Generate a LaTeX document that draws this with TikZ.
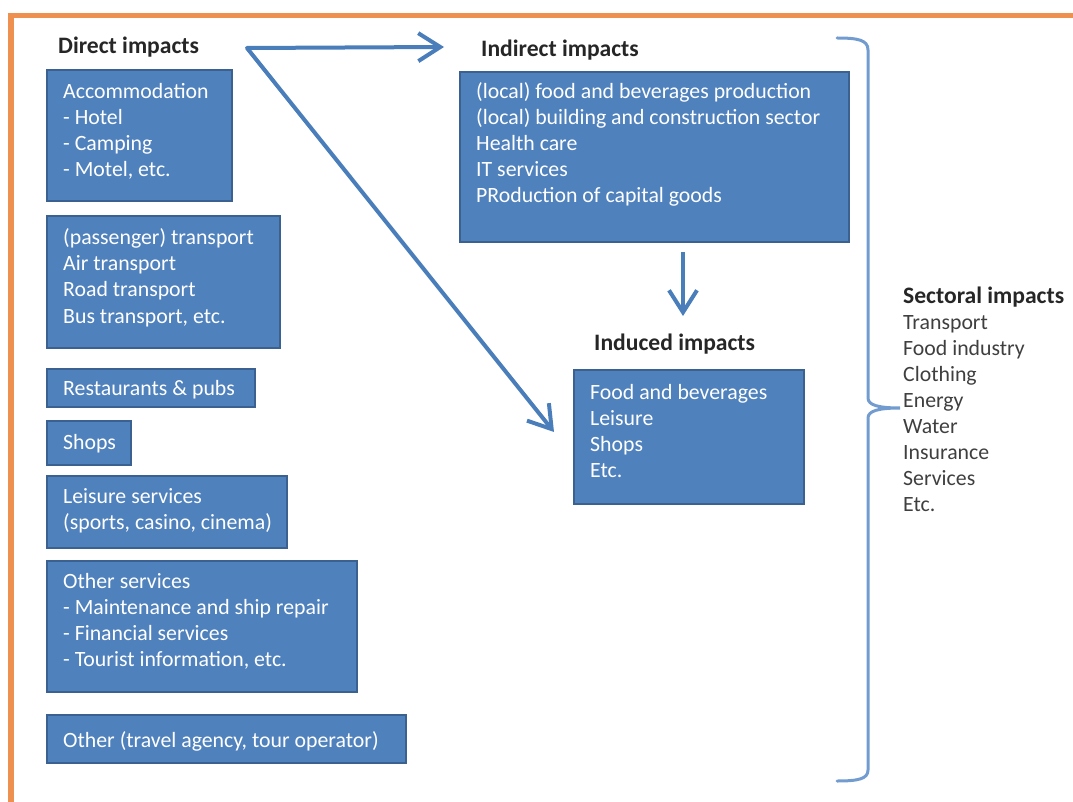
\documentclass[tikz,border=0pt]{standalone}
\usepackage{fontspec}
\setmainfont{Carlito}
\usetikzlibrary{arrows.meta}
\definecolor{boxfill}{HTML}{4F81BD}
\definecolor{boxline}{HTML}{3A6190}
\definecolor{arrowblue}{HTML}{4A7EBB}
\definecolor{bracecol}{HTML}{729CD0}
\definecolor{frameorange}{HTML}{EE9150}
\definecolor{headcol}{HTML}{262626}
\definecolor{listcol}{HTML}{3F3F3F}
\newcommand{\txtsize}{\fontsize{21.8}{26}\selectfont}
\newcommand{\headsize}{\fontsize{23.6}{26}\selectfont}
\newcommand{\lines}[1]{\parbox[t]{420pt}{\raggedright\txtsize #1}}
\tikzset{
  bluebox/.style={draw=boxline, fill=boxfill, line width=2.2pt, anchor=north west,
    inner sep=0pt, outer sep=0pt},
  boxtext/.style={text=white, anchor=base west, inner sep=0pt, font=\txtsize},
  heading/.style={text=headcol, anchor=base west, inner sep=0pt, font=\headsize\bfseries},
  sectlist/.style={text=listcol, anchor=base west, inner sep=0pt, font=\txtsize},
  flow/.style={draw=arrowblue, line width=4pt, line join=round},
  barb/.tip={Straight Barb[length=22pt,width=28pt,line width=4pt]},
}
\begin{document}
\begin{tikzpicture}[x=1pt,y=-1pt]
\useasboundingbox (0,0) rectangle (1073,802);
% orange frame
\draw[frameorange, line width=5.5pt] (11,802) -- (11,15.5) -- (1073,15.5);

% headings
\node[heading] (dirhead) at (58,54) {Direct impacts};
\node[heading] (indhead) at (481,57) {Indirect impacts};
\node[heading] (inducehead) at (594,350) {Induced impacts};

% direct impact boxes
\node[bluebox, minimum width=185pt, minimum height=131pt] (acc) at (47,70) {};
\node[boxtext] (acctxt) at (63,99) {\lines{Accommodation\\- Hotel\\- Camping\\- Motel, etc.}};

\node[bluebox, minimum width=233pt, minimum height=132pt] (trans) at (47,216) {};
\node[boxtext] (transtxt) at (63,245) {\lines{(passenger) transport\\Air transport\\Road transport\\Bus transport, etc.}};

\node[bluebox, minimum width=208pt, minimum height=38pt] (rest) at (47,369) {};
\node[boxtext] (resttxt) at (63,395) {Restaurants \& pubs};

\node[bluebox, minimum width=84pt, minimum height=44pt] (shops) at (47,421) {};
\node[boxtext] (shopstxt) at (63,449) {Shops};

\node[bluebox, minimum width=240pt, minimum height=72pt] (leis) at (47,476) {};
\node[boxtext] (leistxt) at (63,503) {\lines{Leisure services\\(sports, casino, cinema)}};

\node[bluebox, minimum width=310pt, minimum height=131pt] (oserv) at (47,561) {};
\node[boxtext] (oservtxt) at (63,588) {\lines{Other services\\- Maintenance and ship repair\\- Financial services\\- Tourist information, etc.}};

\node[bluebox, minimum width=359pt, minimum height=48pt] (other) at (47,715) {};
\node[boxtext] (othertxt) at (63,747) {Other (travel agency, tour operator)};

% indirect box
\node[bluebox, minimum width=389pt, minimum height=170pt] (indbox) at (460,72) {};
\node[boxtext] (indtxt) at (476,99) {\lines{(local) food and beverages production\\(local) building and construction sector\\Health care\\IT services\\PRoduction of capital goods}};

% induced box
\node[bluebox, minimum width=230pt, minimum height=134pt] (inducebox) at (574,370) {};
\node[boxtext] (inducetxt) at (590,399) {\lines{Food and beverages\\Leisure\\Shops\\Etc.}};

% sectoral impacts
\node[heading] (secthead) at (903,303) {Sectoral impacts};
\node[sectlist] (sectlst) at (903,329) {\parbox[t]{200pt}{\raggedright\txtsize Transport\\Food industry\\Clothing\\Energy\\Water\\Insurance\\Services\\Etc.}};

% arrows
\coordinate (src) at (247,48);
\coordinate (htip) at (444,47);
\coordinate (dtip) at (554,432);
\draw[flow, {barb}-{barb}] (htip) -- (src) -- (dtip);
\coordinate (dtop) at (683,252);
\coordinate (dbot) at (683,316);
\draw[flow, -{barb}] (dtop) -- (dbot);

% brace
\draw[bracecol, line width=3pt, line cap=round]
  (837,38) .. controls (858,38) and (868,40) .. (868,50) -- (868,398)
  .. controls (868,405) and (878,408) .. (900,408)
  .. controls (878,408) and (868,411) .. (868,418) -- (868,770)
  .. controls (868,779) and (858,781) .. (837,781);
\end{tikzpicture}
\end{document}
